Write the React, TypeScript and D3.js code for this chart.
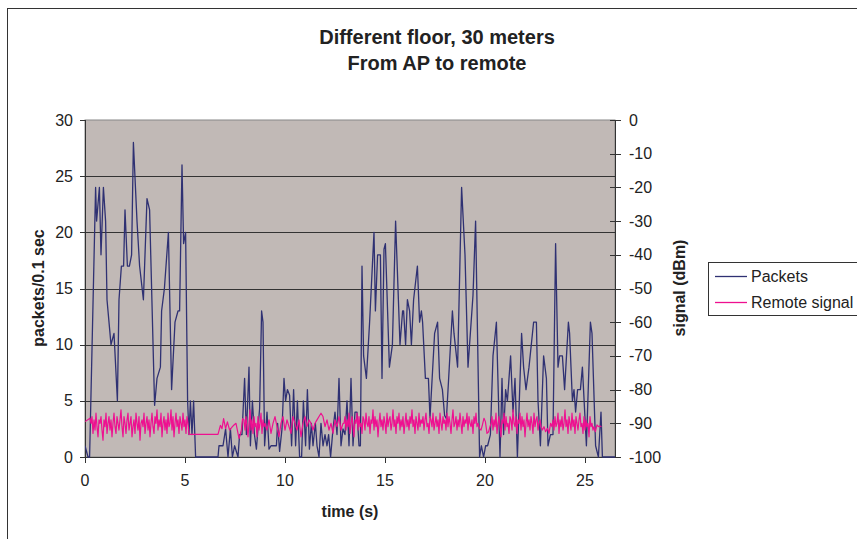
import React from "react";
import * as d3 from "d3";

const titleLines = ["Different floor, 30 meters", "From AP to remote"];
const xTicks = [0, 5, 10, 15, 20, 25];
const leftTicks = [0, 5, 10, 15, 20, 25, 30];
const rightTicks = [0, -10, -20, -30, -40, -50, -60, -70, -80, -90, -100];
const seriesNames = ["Packets", "Remote signal"];

// Packets per 0.1 s: [time (s), packets]
const packets: [number, number][] = [
  [0, 1], [0.15, 0], [0.23, 0], [0.53, 24], [0.58, 21], [0.72, 24], [0.8, 18], [0.92, 24], [1.03, 21], [1.1, 14],
  [1.3, 10], [1.45, 11], [1.62, 5], [1.7, 14], [1.82, 17], [1.93, 17], [2.0, 22], [2.12, 17], [2.22, 17], [2.33, 18],
  [2.42, 28], [2.6, 21], [2.73, 17], [2.92, 14], [3.1, 23], [3.23, 22], [3.48, 4.6], [3.6, 7], [3.77, 8], [3.83, 13],
  [3.97, 15], [4.17, 20], [4.33, 6], [4.5, 12], [4.65, 13], [4.73, 13], [4.85, 26], [4.93, 19], [5.03, 20], [5.13, 5],
  [5.2, 2], [5.27, 5], [5.35, 2], [5.43, 5], [5.53, 0], [6.65, 0], [6.7, 1], [6.9, 1], [7.03, 2.5], [7.15, 0],
  [7.27, 2.5], [7.37, 0], [7.48, 1], [7.65, 0], [7.73, 2], [7.85, 2], [7.98, 7], [8.07, 2], [8.2, 8], [8.27, 1],
  [8.37, 5], [8.47, 2], [8.57, 0.7], [8.67, 3], [8.73, 4.3], [8.83, 13], [8.9, 12], [8.98, 1], [9.1, 4], [9.2, 0.7],
  [9.3, 1], [9.57, 1], [9.63, 3], [9.73, 0.5], [9.85, 2.5], [9.95, 7], [10.03, 5], [10.12, 6], [10.23, 5.5], [10.33, 1],
  [10.43, 6], [10.53, 1], [10.62, 5], [10.73, 0], [10.83, 0], [10.92, 5], [11.03, 1], [11.12, 6], [11.22, 0.7], [11.32, 3],
  [11.4, 1], [11.52, 3], [11.6, 1], [11.7, 0], [11.8, 3], [11.9, 1], [12.0, 2], [12.1, 1], [12.18, 2], [12.28, 0],
  [12.4, 2.5], [12.5, 4], [12.6, 2], [12.7, 7], [12.8, 1], [12.9, 2.5], [13.0, 2], [13.1, 5], [13.2, 1], [13.3, 7],
  [13.4, 1], [13.5, 4], [13.6, 4], [13.7, 1], [13.77, 1], [13.85, 17], [13.93, 9], [14.07, 7], [14.23, 12], [14.45, 20],
  [14.52, 13], [14.63, 18], [14.77, 18], [14.85, 7], [14.95, 18.5], [15.02, 19], [15.22, 8], [15.37, 10], [15.53, 21], [15.75, 10],
  [15.88, 13], [15.93, 13], [16.03, 10], [16.12, 14], [16.23, 13], [16.32, 10], [16.43, 14], [16.62, 17], [16.73, 12], [16.82, 13],
  [16.88, 12], [17.02, 7], [17.17, 7], [17.25, 3.5], [17.48, 11], [17.63, 12], [17.73, 7], [17.87, 6], [17.98, 3.7], [18.07, 3.4],
  [18.37, 13], [18.45, 11], [18.63, 8], [18.83, 24], [19.0, 18], [19.15, 8], [19.4, 14.4], [19.53, 21], [19.73, 0], [19.82, 1],
  [19.93, 0], [20.03, 1], [20.13, 1], [20.27, 2], [20.4, 9], [20.57, 12], [20.75, 0], [20.85, 7], [20.93, 2], [21.03, 6],
  [21.12, 5], [21.28, 9], [21.4, 4], [21.5, 7], [21.62, 0], [21.83, 11], [21.93, 8], [22.05, 6], [22.2, 8], [22.43, 12],
  [22.57, 12], [22.65, 5], [22.77, 1], [22.93, 9], [23.07, 7], [23.15, 1], [23.27, 2], [23.4, 2], [23.53, 19], [23.65, 8],
  [23.73, 9], [23.87, 9], [23.98, 6], [24.17, 12], [24.23, 11], [24.37, 5], [24.45, 6], [24.53, 4], [24.63, 6], [24.77, 6],
  [24.87, 8], [25.07, 1], [25.27, 12], [25.35, 11], [25.53, 1], [25.67, 0], [25.8, 4], [25.87, 0], [26.5, 0],
];

// Remote signal (dBm): sparse parts as [time, dBm], dense parts as evenly spaced samples
const sigStart: [number, number][] = [[0, -89.5], [0.25, -88.5]];
const sigDense1Start = 0.3;
const sigDense1 = [
  -90, -88, -93, -89, -92, -87, -91, -94, -89, -90, -88, -92, -95, -89, -91, -87, -93, -90, -88, -92,
  -89, -94, -90, -87, -91, -93, -88, -90, -92, -89, -86, -91, -94, -88, -90, -93, -89, -87, -92, -90,
  -88, -94, -91, -89, -93, -87, -90, -92, -88, -95, -90, -89, -91, -87, -93, -90, -88, -92, -89, -94,
  -90, -87, -91, -93, -88, -90, -86, -92, -89, -91, -87, -94, -90, -88, -92, -89, -93, -87, -91, -90,
  -86, -92, -88, -94, -90, -87, -91, -89, -93, -88, -90, -92, -87, -91, -89, -93, -88, -90,
];
const sigGap1: [number, number][] = [
  [5.2, -93.3], [6.65, -93.3], [6.77, -90.6], [6.85, -91.6], [6.93, -88.6], [7.03, -91.6], [7.12, -89.6],
  [7.23, -92], [7.37, -91], [7.45, -90.5], [7.55, -90], [7.7, -94.5], [7.82, -92], [7.88, -88.6],
];
const sigDense1bStart = 7.95;
const sigDense1b = [-89, -92, -88, -91, -94, -90, -86, -92, -89, -93, -88, -91, -90, -94, -88, -92, -90, -87, -93, -89, -91];
const sigMidStart = 9.0;
const sigMid = [
  -90, -92, -89, -93, -90, -88, -91, -94, -90, -88, -92, -89, -91, -93, -88, -90, -92, -89, -94, -90,
  -88, -91, -89, -90, -92, -90, -89, -88, -87, -88, -91, -89, -92, -90, -93, -89, -91, -88, -92, -90,
];
const sigDense2Start = 12.95;
const sigDense2 = [
  -90, -88, -92, -89, -91, -87, -93, -90, -88, -91, -94, -89, -90, -87, -92, -88, -91, -90, -93, -88,
  -89, -92, -87, -90, -91, -88, -93, -89, -90, -86, -92, -88, -91, -89, -94, -90, -87, -91, -89, -92,
  -88, -90, -93, -87, -91, -89, -88, -92, -90, -86, -91, -89, -93, -88, -90, -87, -92, -89, -91, -88,
  -93, -90, -87, -91, -89, -92, -88, -90, -86, -91, -89, -93, -88, -90, -92, -87, -91, -89, -90, -88,
  -92, -89, -87, -91, -90, -93, -88, -89, -91, -87, -92, -90, -88, -91, -89, -93, -87, -90, -92, -88,
  -90, -89, -92, -87, -91, -88, -90, -93, -89, -86, -91, -90, -88, -92, -89, -91, -87, -90, -93, -88,
  -91, -89, -90, -87, -92, -88, -90, -91, -89, -93, -88, -90, -87, -91,
];
const sigGap2: [number, number][] = [
  [19.65, -90], [19.72, -91.5], [19.8, -92], [19.87, -90.5], [19.95, -88.5], [20.02, -89.5], [20.1, -93], [20.18, -92.5], [20.25, -91],
];
const sigDense3Start = 20.3;
const sigDense3 = [
  -90, -88, -92, -89, -91, -87, -93, -90, -88, -91, -94, -89, -90, -87, -92, -88, -91, -90, -93, -88,
  -89, -92, -86, -90, -91, -88, -93, -89, -90, -87, -92, -88, -91, -89, -94, -90, -87, -91, -89, -92,
  -88, -90, -93, -87, -91, -89, -88, -92, -90, -89, -91,
];
const sigGap3: [number, number][] = [
  [22.87, -92], [22.95, -91], [23.03, -92.5], [23.12, -91.5], [23.2, -93], [23.28, -90], [23.35, -91],
];
const sigDense4Start = 23.4;
const sigDense4 = [
  -89, -92, -88, -91, -90, -87, -93, -89, -91, -88, -92, -90, -86, -91, -89, -93, -88, -90, -92, -87,
  -91, -89, -93, -88, -90, -92, -89, -87, -91, -90, -93, -88, -92, -89, -91, -90, -94, -88, -91, -90, -92,
];
const sigEnd: [number, number][] = [
  [25.45, -91], [25.52, -92.5], [25.6, -90.5], [25.68, -91], [25.75, -90.8], [25.82, -91],
];
const denseStep = 0.05;
const midStep = 0.1;

function evenly(start: number, step: number, vals: number[]): [number, number][] {
  return vals.map((v, i) => [start + i * step, v] as [number, number]);
}

const signal: [number, number][] = [
  ...sigStart,
  ...evenly(sigDense1Start, denseStep, sigDense1),
  ...sigGap1,
  ...evenly(sigDense1bStart, denseStep, sigDense1b),
  ...evenly(sigMidStart, midStep, sigMid),
  ...evenly(sigDense2Start, denseStep, sigDense2),
  ...sigGap2,
  ...evenly(sigDense3Start, denseStep, sigDense3),
  ...sigGap3,
  ...evenly(sigDense4Start, denseStep, sigDense4),
  ...sigEnd,
];

const W = 857;
const H = 539;
const PL = 85;
const PR = 615;
const PT = 120;
const PB = 457;
const FONT = "'Liberation Sans', Arial, Helvetica, sans-serif";
const TXT = "#222";
const C_PACK = "#2F3173";
const C_SIG = "#EE1090";
const FS = 16;

export default function App() {
  const x = d3.scaleLinear().domain([0, 26.5]).range([PL, PR]);
  const yL = d3.scaleLinear().domain([0, 30]).range([PB, PT]);
  const yR = d3.scaleLinear().domain([-100, 0]).range([PB, PT]);

  const packLine = d3
    .line<[number, number]>()
    .x((d) => x(d[0]))
    .y((d) => yL(d[1]));
  const sigLine = d3
    .line<[number, number]>()
    .x((d) => x(d[0]))
    .y((d) => yR(d[1]));

  return (
    <svg
      width={W}
      height={H}
      style={{ position: "absolute", left: 0, top: 0, background: "#fff" }}
      fontFamily={FONT}
    >
      <defs>
        <clipPath id="plotclip">
          <rect x={PL} y={PT - 2} width={PR - PL} height={PB - PT + 3} />
        </clipPath>
      </defs>
      {/* chart frame */}
      <rect x={7.5} y={8.5} width={W + 10} height={H + 10} fill="none" stroke="#333" strokeWidth={1} />

      {/* title */}
      {titleLines.map((t, i) => (
        <text
          key={t}
          x={437}
          y={44 + i * 26}
          textAnchor="middle"
          fontSize={20}
          fontWeight="bold"
          fill={TXT}
        >
          {t}
        </text>
      ))}

      {/* plot area */}
      <rect x={PL} y={PT} width={PR - PL} height={PB - PT} fill="#C1B9B6" stroke="#888" strokeWidth={1} />

      {/* gridlines */}
      {leftTicks
        .filter((t) => t !== 0 && t !== 30)
        .map((t) => (
          <line key={"g" + t} x1={PL} x2={PR} y1={Math.round(yL(t)) + 0.5} y2={Math.round(yL(t)) + 0.5} stroke="#333" strokeWidth={1} />
        ))}

      {/* left axis */}
      <line x1={PL + 0.5} x2={PL + 0.5} y1={PT} y2={PB} stroke="#333" />
      {leftTicks.map((t) => (
        <g key={"l" + t}>
          <line x1={PL - 5} x2={PL} y1={Math.round(yL(t)) + 0.5} y2={Math.round(yL(t)) + 0.5} stroke="#333" />
          <text x={73} y={yL(t) + 5.5} textAnchor="end" fontSize={FS} fill={TXT}>
            {t}
          </text>
        </g>
      ))}

      {/* right axis */}
      <line x1={PR + 0.5} x2={PR + 0.5} y1={PT} y2={PB} stroke="#333" />
      {rightTicks.map((t) => (
        <g key={"r" + t}>
          <line x1={PR - 5} x2={PR + 6} y1={Math.round(yR(t)) + 0.5} y2={Math.round(yR(t)) + 0.5} stroke="#333" />
          <text x={629} y={yR(t) + 5.5} textAnchor="start" fontSize={FS} fill={TXT}>
            {t}
          </text>
        </g>
      ))}

      {/* bottom axis */}
      <line x1={PL} x2={PR} y1={PB + 0.5} y2={PB + 0.5} stroke="#333" />
      {xTicks.map((t) => (
        <g key={"x" + t}>
          <line x1={Math.round(x(t)) + 0.5} x2={Math.round(x(t)) + 0.5} y1={PB} y2={PB + 6} stroke="#333" />
          <text x={x(t)} y={486} textAnchor="middle" fontSize={FS} fill={TXT}>
            {t}
          </text>
        </g>
      ))}

      {/* axis titles */}
      <text x={350} y={517} textAnchor="middle" fontSize={FS} fontWeight="bold" fill={TXT}>
        time (s)
      </text>
      <text
        transform={`translate(44,288) rotate(-90)`}
        textAnchor="middle"
        fontSize={FS}
        fontWeight="bold"
        fill={TXT}
      >
        packets/0.1 sec
      </text>
      <text
        transform={`translate(685,288) rotate(-90)`}
        textAnchor="middle"
        fontSize={FS}
        fontWeight="bold"
        fill={TXT}
      >
        signal (dBm)
      </text>

      {/* series */}
      <g clipPath="url(#plotclip)">
        <path d={packLine(packets) || ""} fill="none" stroke={C_PACK} strokeWidth={1.3} strokeLinejoin="round" />
        <path d={sigLine(signal) || ""} fill="none" stroke={C_SIG} strokeWidth={1.2} strokeLinejoin="round" />
      </g>

      {/* legend */}
      <rect x={708.5} y={262.5} width={170} height={53} fill="#fff" stroke="#333" strokeWidth={1} />
      {seriesNames.map((n, i) => (
        <g key={n}>
          <line x1={715} x2={747} y1={276.5 + i * 26} y2={276.5 + i * 26} stroke={i === 0 ? C_PACK : C_SIG} strokeWidth={1.3} />
          <text x={751} y={282 + i * 26} fontSize={FS} fill={TXT}>
            {n}
          </text>
        </g>
      ))}
    </svg>
  );
}
